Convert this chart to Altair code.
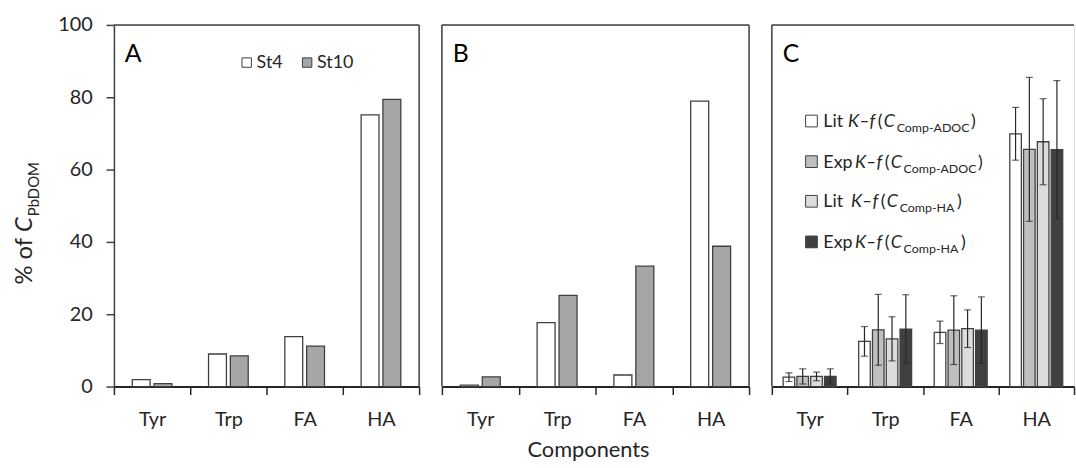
import altair as alt
import pandas as pd

# ---------------- data ----------------
categories = ["Tyr", "Trp", "FA", "HA"]
st_series = ["St4", "St10"]
a_st4 = [1.9, 9.0, 13.8, 75.1]
a_st10 = [0.8, 8.5, 11.2, 79.4]
b_st4 = [0.4, 17.7, 3.2, 78.9]
b_st10 = [2.7, 25.2, 33.3, 38.8]

c_series = ["LitADOC", "ExpADOC", "LitHA", "ExpHA"]
c_lit_adoc = [2.6, 12.5, 15.0, 69.9]
c_lit_adoc_err = [1.2, 4.1, 3.1, 7.3]
c_exp_adoc = [2.8, 15.7, 15.6, 65.6]
c_exp_adoc_err = [2.1, 9.8, 9.5, 19.9]
c_lit_ha = [2.8, 13.2, 16.0, 67.7]
c_lit_ha_err = [1.2, 6.1, 5.2, 11.9]
c_exp_ha = [2.8, 15.9, 15.6, 65.5]
c_exp_ha_err = [2.1, 9.5, 9.2, 19.1]

y_ticks = [0, 20, 40, 60, 80, 100]
legend_c_prefix = ["Lit", "Exp", "Lit", "Exp"]
legend_c_sub = ["Comp-ADOC", "Comp-ADOC", "Comp-HA", "Comp-HA"]
legend_c_fill = ["#ffffff", "#bfbfbf", "#dcdcdc", "#404040"]

# ---------------- style / layout ----------------
FONT = "Lato"
INK = "#262626"
EDGE = "#404040"
H = 365
WA, WB, WC = 308, 310, 305

# legend C layout (pixels inside panel C): prefix, K-f, "(", C, subscript, ")"
legend_c_rowy = [97, 138, 178, 219]
legend_c_x = [
    [52, 77, 107, 113, 126, 201],
    [52, 84, 114, 120, 133, 208],
    [52, 80, 110, 116, 129, 187],
    [52, 84, 114, 120, 133, 191],
]


def x_enc():
    return alt.X(
        "comp:N", sort=categories, title=None,
        scale=alt.Scale(paddingInner=0, paddingOuter=0),
        axis=alt.Axis(tickBand="extent", labelAngle=0, domainColor=INK, domainWidth=2,
                      tickColor=INK, tickWidth=1.5, tickSize=8, labelFontSize=20,
                      labelFont=FONT, labelColor=INK, labelPadding=15, grid=False),
    )


def y_enc(field, with_axis):
    ax = None
    if with_axis:
        ax = alt.Axis(values=y_ticks, title=None, grid=False, domainColor=EDGE, domainWidth=1.5,
                      tickSize=8, tickColor=EDGE, tickWidth=1.5, labelFontSize=20,
                      labelPadding=14, labelColor=INK, labelFont=FONT)
    return alt.Y(field, scale=alt.Scale(domain=[0, 100], nice=False), axis=ax)


one = pd.DataFrame({"k": [0]})


def frame(width, left=True, right=True):
    base = alt.Chart(one)
    layers = [base.mark_rule(color=EDGE, strokeWidth=1.5).encode(
        x=alt.value(0), x2=alt.value(width), y=alt.value(0))]
    if left:
        layers.append(base.mark_rule(color=EDGE, strokeWidth=1.5).encode(
            x=alt.value(0), y=alt.value(0), y2=alt.value(H)))
    if right:
        layers.append(base.mark_rule(color=EDGE, strokeWidth=1.5).encode(
            x=alt.value(width), y=alt.value(0), y2=alt.value(H)))
    return layers


def letter(t):
    return alt.Chart(pd.DataFrame({"t": [t]})).mark_text(
        align="left", baseline="alphabetic", font=FONT, fontSize=25, color="#000000"
    ).encode(x=alt.value(11), y=alt.value(37), text="t:N")


def ab_bars(st4, st10, with_y):
    df = pd.DataFrame({"comp": categories * 2,
                       "series": ["St4"] * 4 + ["St10"] * 4,
                       "value": st4 + st10})
    return alt.Chart(df).mark_bar(stroke=EDGE, strokeWidth=1.3).encode(
        x=x_enc(),
        y=y_enc("value:Q", with_y),
        xOffset=alt.XOffset("series:N", sort=st_series,
                            scale=alt.Scale(paddingInner=0.18, paddingOuter=0.84)),
        fill=alt.Fill("series:N", sort=st_series,
                      scale=alt.Scale(domain=st_series, range=["#ffffff", "#a6a6a6"]),
                      legend=None),
    )


# ---- panel A ----
leg_a = pd.DataFrame({"t": st_series, "fill": ["#ffffff", "#a6a6a6"],
                      "sx": [134, 195], "tx": [144, 205], "y": [38, 38]})
leg_a_sq = alt.Chart(leg_a).mark_point(shape="square", size=90, filled=True,
                                       stroke=EDGE, strokeWidth=1, opacity=1).encode(
    x=alt.X("sx:Q", scale=None), y=alt.Y("y:Q", scale=None),
    fill=alt.Fill("fill:N", scale=None))
leg_a_tx = alt.Chart(leg_a).mark_text(align="left", baseline="middle", font=FONT,
                                      fontSize=18, color=INK).encode(
    x=alt.X("tx:Q", scale=None), y=alt.Y("y:Q", scale=None), text="t:N")

ytitle = pd.DataFrame({"t": ["% of", "C", "PbDOM"],
                       "x": [-83, -83, -76], "y": [262, 209, 193],
                       "s": ["n", "i", "s"]})
yt_main = alt.Chart(ytitle).transform_filter("datum.s == 'n'").mark_text(
    align="left", baseline="alphabetic", angle=270, font=FONT, fontSize=24, color=INK).encode(
    x=alt.X("x:Q", scale=None), y=alt.Y("y:Q", scale=None), text="t:N")
yt_ital = alt.Chart(ytitle).transform_filter("datum.s == 'i'").mark_text(
    align="left", baseline="alphabetic", angle=270, font=FONT, fontSize=24, fontStyle="italic",
    color=INK).encode(x=alt.X("x:Q", scale=None), y=alt.Y("y:Q", scale=None), text="t:N")
yt_sub = alt.Chart(ytitle).transform_filter("datum.s == 's'").mark_text(
    align="left", baseline="alphabetic", angle=270, font=FONT, fontSize=15, color=INK).encode(
    x=alt.X("x:Q", scale=None), y=alt.Y("y:Q", scale=None), text="t:N")

panel_a = alt.layer(ab_bars(a_st4, a_st10, True), *frame(WA, left=False), letter("A"),
                    leg_a_sq, leg_a_tx, yt_main, yt_ital, yt_sub).properties(width=WA, height=H)

# ---- panel B ----
comp_title = alt.Chart(pd.DataFrame({"t": ["Components"]})).mark_text(
    align="center", baseline="middle", font=FONT, fontSize=22, color=INK).encode(
    x=alt.value(148), y=alt.value(429), text="t:N")
panel_b = alt.layer(ab_bars(b_st4, b_st10, False), *frame(WB), letter("B"),
                    comp_title).properties(width=WB, height=H)

# ---- panel C ----
c_vals = [c_lit_adoc, c_exp_adoc, c_lit_ha, c_exp_ha]
c_errs = [c_lit_adoc_err, c_exp_adoc_err, c_lit_ha_err, c_exp_ha_err]
rows = []
for s, vals, errs in zip(c_series, c_vals, c_errs):
    for c, v, e in zip(categories, vals, errs):
        rows.append({"comp": c, "series": s, "value": v, "err": e})
dfc = pd.DataFrame(rows)

xoff_c = alt.XOffset("series:N", sort=c_series,
                     scale=alt.Scale(paddingInner=0.16, paddingOuter=0.82))
base_c = alt.Chart(dfc).transform_calculate(lo="datum.value - datum.err",
                                            hi="datum.value + datum.err")
bars_c = base_c.mark_bar(stroke=EDGE, strokeWidth=1.3).encode(
    x=x_enc(), y=y_enc("value:Q", False), xOffset=xoff_c,
    fill=alt.Fill("series:N", sort=c_series,
                  scale=alt.Scale(domain=c_series, range=legend_c_fill), legend=None))
err_c = base_c.mark_rule(color=INK, strokeWidth=1.2).encode(
    x=x_enc(), xOffset=xoff_c, y=y_enc("lo:Q", False), y2="hi:Q")
cap_lo = base_c.mark_tick(color=INK, thickness=1.2, size=7).encode(
    x=x_enc(), xOffset=xoff_c, y=y_enc("lo:Q", False))
cap_hi = base_c.mark_tick(color=INK, thickness=1.2, size=7).encode(
    x=x_enc(), xOffset=xoff_c, y=y_enc("hi:Q", False))

lg_n, lg_i, lg_s, lg_sq = [], [], [], []
for i in range(4):
    xs = legend_c_x[i]
    yc = legend_c_rowy[i]
    lg_sq.append({"x": 40, "y": yc, "fill": legend_c_fill[i]})
    lg_n.append({"t": legend_c_prefix[i], "x": xs[0], "y": yc + 6})
    lg_i.append({"t": "K\u2013f", "x": xs[1], "y": yc + 6})
    lg_n.append({"t": "(", "x": xs[2], "y": yc + 6})
    lg_i.append({"t": "C", "x": xs[3], "y": yc + 6})
    lg_s.append({"t": legend_c_sub[i], "x": xs[4], "y": yc + 11})
    lg_n.append({"t": ")", "x": xs[5], "y": yc + 6})

legc_sq = alt.Chart(pd.DataFrame(lg_sq)).mark_point(shape="square", size=140, filled=True,
                                                    stroke=EDGE, strokeWidth=1, opacity=1).encode(
    x=alt.X("x:Q", scale=None), y=alt.Y("y:Q", scale=None), fill=alt.Fill("fill:N", scale=None))
legc_n = alt.Chart(pd.DataFrame(lg_n)).mark_text(align="left", baseline="alphabetic", font=FONT,
                                                 fontSize=18, color=INK).encode(
    x=alt.X("x:Q", scale=None), y=alt.Y("y:Q", scale=None), text="t:N")
legc_i = alt.Chart(pd.DataFrame(lg_i)).mark_text(align="left", baseline="alphabetic", font=FONT,
                                                 fontSize=18, fontStyle="italic", color=INK).encode(
    x=alt.X("x:Q", scale=None), y=alt.Y("y:Q", scale=None), text="t:N")
legc_s = alt.Chart(pd.DataFrame(lg_s)).mark_text(align="left", baseline="alphabetic", font=FONT,
                                                 fontSize=12.5, color=INK).encode(
    x=alt.X("x:Q", scale=None), y=alt.Y("y:Q", scale=None), text="t:N")

panel_c = alt.layer(bars_c, err_c, cap_lo, cap_hi, *frame(WC, right=False), letter("C"),
                    legc_sq, legc_n, legc_i, legc_s).properties(width=WC, height=H)

chart = alt.hconcat(panel_a, panel_b, panel_c, spacing=19).resolve_scale(
    x="independent", y="independent", fill="independent", xOffset="independent"
).properties(padding={"left": 12, "top": 12, "right": 0, "bottom": 0}).configure_view(
    stroke=None).configure(background="#ffffff")

chart.save("out.html", embed_options={"renderer": "svg", "actions": False})
